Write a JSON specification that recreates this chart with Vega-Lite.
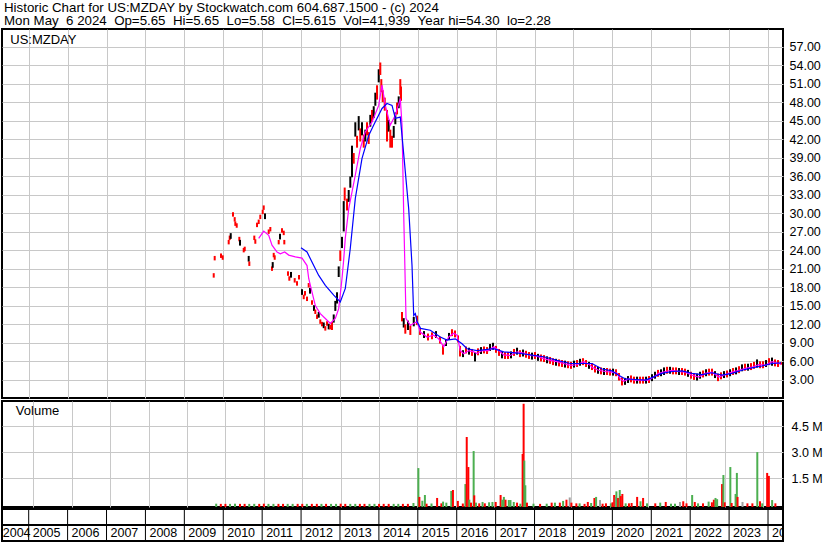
{
"$schema": "https://vega.github.io/schema/vega-lite/v6.json",
"padding": 0,
"background": "#ffffff",
"title": {"text": ["Historic Chart for US:MZDAY by Stockwatch.com 604.687.1500 - (c) 2024", "Mon May\u00a0\u00a06 2024\u00a0\u00a0Op=5.65\u00a0\u00a0Hi=5.65\u00a0\u00a0Lo=5.58\u00a0\u00a0Cl=5.615\u00a0\u00a0Vol=41,939\u00a0\u00a0Year hi=54.30\u00a0\u00a0lo=2.28"], "anchor": "start", "frame": "group", "fontSize": 13.3, "font": "Liberation Sans", "fontWeight": "normal", "color": "#000000", "lineHeight": 13, "offset": 2, "dx": 2, "dy": 1},
"config": {
  "view": {"stroke": "#000000", "strokeWidth": 2},
  "axis": {"gridColor": "#c8c8c8", "gridWidth": 1, "labelFont": "Liberation Sans", "labelFontSize": 12.5, "labelColor": "#000000", "labelOverlap": false},
  "axisY": {"labelOverlap": false, "labelSeparation": 0},
  "text": {"font": "Liberation Sans", "color": "#000000"}
},
"datasets": {
  "prices": [
    {"t":2009.755,"high":20.1,"low":19.7,"dir":"down"},
    {"t":2009.780,"high":22.9,"low":22.5,"dir":"down"},
    {"t":2009.942,"high":23.3,"low":22.9,"dir":"down"},
    {"t":2009.986,"high":23.0,"low":22.6,"dir":"down"},
    {"t":2010.140,"high":25.5,"low":25.1,"dir":"down"},
    {"t":2010.166,"high":26.2,"low":25.8,"dir":"down"},
    {"t":2010.192,"high":26.6,"low":26.0,"dir":"up"},
    {"t":2010.251,"high":30.0,"low":29.6,"dir":"down"},
    {"t":2010.294,"high":29.2,"low":28.8,"dir":"down"},
    {"t":2010.310,"high":28.5,"low":28.1,"dir":"down"},
    {"t":2010.346,"high":28.2,"low":27.8,"dir":"down"},
    {"t":2010.413,"high":26.0,"low":25.6,"dir":"down"},
    {"t":2010.431,"high":25.5,"low":24.9,"dir":"up"},
    {"t":2010.526,"high":24.2,"low":23.8,"dir":"down"},
    {"t":2010.552,"high":24.4,"low":24.0,"dir":"down"},
    {"t":2010.654,"high":22.9,"low":22.3,"dir":"up"},
    {"t":2010.670,"high":22.0,"low":21.6,"dir":"down"},
    {"t":2010.798,"high":26.2,"low":25.8,"dir":"down"},
    {"t":2010.824,"high":25.6,"low":25.2,"dir":"down"},
    {"t":2010.868,"high":28.3,"low":27.9,"dir":"down"},
    {"t":2010.911,"high":28.8,"low":28.4,"dir":"down"},
    {"t":2010.952,"high":29.6,"low":29.2,"dir":"down"},
    {"t":2011.014,"high":30.4,"low":30.0,"dir":"down"},
    {"t":2011.040,"high":31.1,"low":30.7,"dir":"down"},
    {"t":2011.073,"high":29.8,"low":29.2,"dir":"up"},
    {"t":2011.168,"high":27.2,"low":26.8,"dir":"down"},
    {"t":2011.210,"high":27.6,"low":27.2,"dir":"down"},
    {"t":2011.253,"high":21.2,"low":20.8,"dir":"down"},
    {"t":2011.271,"high":21.9,"low":21.3,"dir":"up"},
    {"t":2011.297,"high":23.4,"low":23.0,"dir":"down"},
    {"t":2011.322,"high":23.0,"low":22.6,"dir":"down"},
    {"t":2011.425,"high":25.5,"low":25.1,"dir":"down"},
    {"t":2011.459,"high":26.5,"low":25.9,"dir":"up"},
    {"t":2011.510,"high":27.4,"low":27.0,"dir":"down"},
    {"t":2011.554,"high":27.0,"low":26.6,"dir":"down"},
    {"t":2011.569,"high":25.5,"low":25.1,"dir":"down"},
    {"t":2011.664,"high":20.4,"low":20.0,"dir":"down"},
    {"t":2011.698,"high":19.6,"low":19.2,"dir":"down"},
    {"t":2011.741,"high":20.3,"low":19.7,"dir":"up"},
    {"t":2011.836,"high":19.3,"low":18.9,"dir":"down"},
    {"t":2011.896,"high":18.8,"low":18.4,"dir":"down"},
    {"t":2011.947,"high":19.8,"low":19.4,"dir":"down"},
    {"t":2012.024,"high":17.5,"low":16.9,"dir":"up"},
    {"t":2012.068,"high":16.6,"low":16.2,"dir":"down"},
    {"t":2012.101,"high":17.2,"low":16.8,"dir":"down"},
    {"t":2012.153,"high":16.3,"low":15.9,"dir":"down"},
    {"t":2012.196,"high":18.5,"low":18.1,"dir":"down"},
    {"t":2012.230,"high":17.7,"low":17.1,"dir":"up"},
    {"t":2012.281,"high":15.7,"low":15.3,"dir":"down"},
    {"t":2012.332,"high":14.9,"low":14.3,"dir":"up"},
    {"t":2012.366,"high":14.2,"low":13.8,"dir":"down"},
    {"t":2012.410,"high":13.4,"low":13.0,"dir":"down"},
    {"t":2012.454,"high":13.8,"low":13.2,"dir":"up"},
    {"t":2012.494,"high":12.6,"low":12.2,"dir":"down"},
    {"t":2012.538,"high":12.2,"low":11.8,"dir":"down"},
    {"t":2012.582,"high":12.1,"low":11.5,"dir":"up"},
    {"t":2012.623,"high":11.5,"low":11.1,"dir":"down"},
    {"t":2012.667,"high":12.3,"low":11.9,"dir":"down"},
    {"t":2012.710,"high":11.9,"low":11.3,"dir":"up"},
    {"t":2012.752,"high":11.7,"low":11.3,"dir":"down"},
    {"t":2012.795,"high":12.2,"low":11.2,"dir":"down"},
    {"t":2012.839,"high":13.4,"low":12.4,"dir":"up"},
    {"t":2012.880,"high":15.6,"low":14.3,"dir":"up"},
    {"t":2012.924,"high":17.0,"low":15.5,"dir":"up"},
    {"t":2012.967,"high":21.2,"low":19.8,"dir":"up"},
    {"t":2013.008,"high":23.8,"low":22.4,"dir":"down"},
    {"t":2013.052,"high":26.0,"low":24.5,"dir":"up"},
    {"t":2013.096,"high":31.8,"low":27.2,"dir":"up"},
    {"t":2013.121,"high":34.0,"low":32.2,"dir":"down"},
    {"t":2013.181,"high":32.2,"low":30.6,"dir":"down"},
    {"t":2013.224,"high":33.6,"low":32.0,"dir":"up"},
    {"t":2013.265,"high":35.8,"low":34.3,"dir":"up"},
    {"t":2013.309,"high":40.8,"low":36.0,"dir":"up"},
    {"t":2013.353,"high":39.6,"low":38.2,"dir":"down"},
    {"t":2013.394,"high":44.6,"low":42.6,"dir":"up"},
    {"t":2013.438,"high":42.4,"low":40.8,"dir":"down"},
    {"t":2013.481,"high":45.6,"low":43.6,"dir":"up"},
    {"t":2013.522,"high":43.6,"low":41.8,"dir":"down"},
    {"t":2013.566,"high":44.6,"low":42.8,"dir":"up"},
    {"t":2013.610,"high":42.6,"low":40.8,"dir":"down"},
    {"t":2013.651,"high":43.4,"low":41.8,"dir":"up"},
    {"t":2013.695,"high":44.6,"low":42.8,"dir":"down"},
    {"t":2013.738,"high":43.0,"low":41.4,"dir":"down"},
    {"t":2013.779,"high":45.8,"low":44.2,"dir":"up"},
    {"t":2013.823,"high":46.6,"low":45.0,"dir":"down"},
    {"t":2013.867,"high":47.2,"low":45.6,"dir":"up"},
    {"t":2013.908,"high":49.4,"low":47.6,"dir":"up"},
    {"t":2013.952,"high":50.6,"low":48.6,"dir":"down"},
    {"t":2013.995,"high":53.2,"low":51.4,"dir":"up"},
    {"t":2014.036,"high":54.3,"low":52.6,"dir":"down"},
    {"t":2014.062,"high":51.6,"low":49.8,"dir":"down"},
    {"t":2014.098,"high":49.8,"low":48.2,"dir":"down"},
    {"t":2014.150,"high":48.6,"low":46.8,"dir":"down"},
    {"t":2014.208,"high":46.6,"low":41.8,"dir":"down"},
    {"t":2014.252,"high":45.0,"low":43.4,"dir":"up"},
    {"t":2014.293,"high":43.4,"low":40.8,"dir":"down"},
    {"t":2014.337,"high":42.4,"low":40.8,"dir":"down"},
    {"t":2014.381,"high":44.0,"low":42.4,"dir":"up"},
    {"t":2014.422,"high":46.2,"low":44.6,"dir":"up"},
    {"t":2014.466,"high":47.8,"low":46.2,"dir":"down"},
    {"t":2014.509,"high":48.8,"low":47.2,"dir":"up"},
    {"t":2014.550,"high":51.6,"low":49.4,"dir":"down"},
    {"t":2014.568,"high":50.4,"low":48.4,"dir":"down"},
    {"t":2014.594,"high":13.8,"low":12.6,"dir":"down"},
    {"t":2014.638,"high":12.8,"low":11.6,"dir":"up"},
    {"t":2014.679,"high":11.8,"low":10.6,"dir":"down"},
    {"t":2014.748,"high":12.4,"low":11.2,"dir":"up"},
    {"t":2014.808,"high":11.6,"low":10.4,"dir":"down"},
    {"t":2014.896,"high":13.0,"low":11.8,"dir":"up"},
    {"t":2014.980,"high":13.2,"low":12.0,"dir":"down"},
    {"t":2015.057,"high":11.2,"low":10.4,"dir":"down"},
    {"t":2015.159,"high":10.7,"low":9.9,"dir":"up"},
    {"t":2015.262,"high":10.3,"low":9.5,"dir":"down"},
    {"t":2015.365,"high":10.5,"low":9.7,"dir":"down"},
    {"t":2015.468,"high":10.7,"low":9.9,"dir":"up"},
    {"t":2015.571,"high":9.8,"low":9.0,"dir":"down"},
    {"t":2015.648,"high":8.5,"low":7.2,"dir":"down"},
    {"t":2015.725,"high":9.4,"low":8.6,"dir":"up"},
    {"t":2015.802,"high":10.4,"low":9.6,"dir":"up"},
    {"t":2015.879,"high":11.0,"low":10.2,"dir":"down"},
    {"t":2015.956,"high":10.8,"low":10.0,"dir":"down"},
    {"t":2016.033,"high":10.0,"low":9.2,"dir":"down"},
    {"t":2016.085,"high":8.3,"low":6.9,"dir":"down"},
    {"t":2016.162,"high":7.6,"low":6.8,"dir":"up"},
    {"t":2016.239,"high":8.2,"low":7.4,"dir":"down"},
    {"t":2016.316,"high":8.0,"low":7.2,"dir":"up"},
    {"t":2016.393,"high":7.8,"low":7.0,"dir":"down"},
    {"t":2016.470,"high":7.3,"low":6.1,"dir":"up"},
    {"t":2016.547,"high":7.9,"low":7.1,"dir":"down"},
    {"t":2016.624,"high":8.1,"low":7.3,"dir":"up"},
    {"t":2016.701,"high":8.2,"low":7.4,"dir":"down"},
    {"t":2016.779,"high":8.1,"low":7.3,"dir":"down"},
    {"t":2016.856,"high":8.6,"low":7.8,"dir":"up"},
    {"t":2016.933,"high":8.8,"low":8.0,"dir":"up"},
    {"t":2017.010,"high":8.3,"low":7.5,"dir":"down"},
    {"t":2017.087,"high":7.8,"low":7.0,"dir":"down"},
    {"t":2017.164,"high":7.4,"low":6.6,"dir":"up"},
    {"t":2017.241,"high":7.3,"low":6.5,"dir":"down"},
    {"t":2017.318,"high":7.3,"low":6.5,"dir":"down"},
    {"t":2017.395,"high":7.4,"low":6.6,"dir":"up"},
    {"t":2017.472,"high":7.8,"low":7.0,"dir":"down"},
    {"t":2017.550,"high":8.0,"low":7.2,"dir":"up"},
    {"t":2017.627,"high":7.6,"low":6.8,"dir":"down"},
    {"t":2017.704,"high":7.7,"low":6.9,"dir":"up"},
    {"t":2017.781,"high":7.5,"low":6.7,"dir":"down"},
    {"t":2017.858,"high":7.3,"low":6.5,"dir":"down"},
    {"t":2017.935,"high":7.2,"low":6.4,"dir":"up"},
    {"t":2018.012,"high":7.3,"low":6.5,"dir":"down"},
    {"t":2018.089,"high":7.0,"low":6.2,"dir":"up"},
    {"t":2018.166,"high":6.9,"low":6.1,"dir":"down"},
    {"t":2018.243,"high":6.8,"low":6.0,"dir":"down"},
    {"t":2018.321,"high":6.6,"low":5.8,"dir":"up"},
    {"t":2018.398,"high":6.5,"low":5.7,"dir":"down"},
    {"t":2018.475,"high":6.3,"low":5.5,"dir":"down"},
    {"t":2018.552,"high":6.2,"low":5.4,"dir":"up"},
    {"t":2018.629,"high":6.1,"low":5.3,"dir":"down"},
    {"t":2018.706,"high":6.0,"low":5.2,"dir":"down"},
    {"t":2018.783,"high":5.9,"low":5.1,"dir":"up"},
    {"t":2018.860,"high":5.8,"low":5.0,"dir":"down"},
    {"t":2018.937,"high":5.7,"low":4.9,"dir":"down"},
    {"t":2019.014,"high":5.9,"low":5.1,"dir":"up"},
    {"t":2019.092,"high":6.0,"low":5.2,"dir":"down"},
    {"t":2019.169,"high":6.2,"low":5.4,"dir":"up"},
    {"t":2019.246,"high":6.3,"low":5.5,"dir":"down"},
    {"t":2019.323,"high":6.0,"low":5.2,"dir":"down"},
    {"t":2019.400,"high":5.7,"low":4.9,"dir":"up"},
    {"t":2019.477,"high":5.5,"low":4.7,"dir":"down"},
    {"t":2019.554,"high":5.1,"low":4.3,"dir":"down"},
    {"t":2019.631,"high":4.9,"low":4.1,"dir":"up"},
    {"t":2019.708,"high":4.8,"low":4.0,"dir":"down"},
    {"t":2019.785,"high":4.7,"low":3.9,"dir":"up"},
    {"t":2019.863,"high":4.7,"low":3.9,"dir":"down"},
    {"t":2019.940,"high":4.6,"low":3.8,"dir":"down"},
    {"t":2020.017,"high":4.6,"low":3.8,"dir":"up"},
    {"t":2020.094,"high":4.5,"low":3.7,"dir":"down"},
    {"t":2020.171,"high":3.9,"low":3.0,"dir":"down"},
    {"t":2020.248,"high":3.2,"low":2.2,"dir":"down"},
    {"t":2020.325,"high":3.1,"low":2.3,"dir":"up"},
    {"t":2020.402,"high":3.4,"low":2.6,"dir":"up"},
    {"t":2020.479,"high":3.5,"low":2.7,"dir":"down"},
    {"t":2020.556,"high":3.3,"low":2.5,"dir":"down"},
    {"t":2020.634,"high":3.3,"low":2.5,"dir":"up"},
    {"t":2020.711,"high":3.3,"low":2.5,"dir":"down"},
    {"t":2020.788,"high":3.3,"low":2.5,"dir":"down"},
    {"t":2020.865,"high":3.3,"low":2.5,"dir":"up"},
    {"t":2020.942,"high":3.4,"low":2.6,"dir":"down"},
    {"t":2021.019,"high":3.7,"low":2.9,"dir":"up"},
    {"t":2021.096,"high":4.1,"low":3.3,"dir":"up"},
    {"t":2021.173,"high":4.4,"low":3.6,"dir":"down"},
    {"t":2021.250,"high":4.5,"low":3.7,"dir":"up"},
    {"t":2021.327,"high":4.8,"low":3.9,"dir":"up"},
    {"t":2021.405,"high":4.9,"low":4.1,"dir":"down"},
    {"t":2021.482,"high":4.9,"low":4.1,"dir":"up"},
    {"t":2021.559,"high":4.8,"low":4.0,"dir":"down"},
    {"t":2021.636,"high":4.8,"low":4.0,"dir":"down"},
    {"t":2021.713,"high":4.7,"low":3.9,"dir":"up"},
    {"t":2021.790,"high":4.7,"low":3.9,"dir":"down"},
    {"t":2021.867,"high":4.6,"low":3.8,"dir":"down"},
    {"t":2021.944,"high":4.4,"low":3.6,"dir":"up"},
    {"t":2022.021,"high":4.1,"low":3.3,"dir":"down"},
    {"t":2022.098,"high":3.9,"low":3.1,"dir":"down"},
    {"t":2022.176,"high":3.8,"low":3.0,"dir":"up"},
    {"t":2022.253,"high":4.1,"low":3.3,"dir":"up"},
    {"t":2022.330,"high":4.3,"low":3.5,"dir":"down"},
    {"t":2022.407,"high":4.5,"low":3.7,"dir":"up"},
    {"t":2022.484,"high":4.6,"low":3.8,"dir":"down"},
    {"t":2022.561,"high":4.6,"low":3.8,"dir":"down"},
    {"t":2022.638,"high":4.2,"low":3.4,"dir":"up"},
    {"t":2022.715,"high":3.8,"low":2.9,"dir":"down"},
    {"t":2022.792,"high":4.0,"low":3.2,"dir":"down"},
    {"t":2022.869,"high":4.2,"low":3.4,"dir":"up"},
    {"t":2022.947,"high":4.3,"low":3.5,"dir":"down"},
    {"t":2023.024,"high":4.5,"low":3.7,"dir":"up"},
    {"t":2023.101,"high":4.7,"low":3.9,"dir":"down"},
    {"t":2023.178,"high":4.8,"low":4.0,"dir":"up"},
    {"t":2023.255,"high":5.0,"low":4.2,"dir":"down"},
    {"t":2023.332,"high":5.3,"low":4.5,"dir":"up"},
    {"t":2023.409,"high":5.4,"low":4.6,"dir":"down"},
    {"t":2023.486,"high":5.4,"low":4.6,"dir":"up"},
    {"t":2023.563,"high":5.5,"low":4.7,"dir":"down"},
    {"t":2023.640,"high":5.7,"low":4.9,"dir":"down"},
    {"t":2023.718,"high":6.1,"low":5.1,"dir":"up"},
    {"t":2023.795,"high":5.8,"low":5.0,"dir":"down"},
    {"t":2023.872,"high":5.8,"low":5.0,"dir":"down"},
    {"t":2023.949,"high":6.0,"low":5.2,"dir":"up"},
    {"t":2024.026,"high":6.3,"low":5.5,"dir":"down"},
    {"t":2024.103,"high":6.4,"low":5.4,"dir":"up"},
    {"t":2024.180,"high":6.1,"low":5.3,"dir":"down"},
    {"t":2024.257,"high":6.0,"low":5.2,"dir":"down"},
    {"t":2024.334,"high":5.65,"low":5.58,"dir":"down"}
  ],
  "fastAverage": [
    {"t":2010.911,"value":25.9},{"t":2011.040,"value":27.1},{"t":2011.168,"value":26.4},{"t":2011.253,"value":24.8},
    {"t":2011.382,"value":23.7},{"t":2011.466,"value":23.4},{"t":2011.579,"value":23.7},{"t":2011.682,"value":23.2},
    {"t":2011.852,"value":22.9},{"t":2012.024,"value":22.7},{"t":2012.153,"value":21.5},{"t":2012.196,"value":19.4},
    {"t":2012.281,"value":17.2},{"t":2012.366,"value":15.0},{"t":2012.494,"value":13.7},{"t":2012.623,"value":12.9},
    {"t":2012.752,"value":12.1},{"t":2012.880,"value":12.9},{"t":2012.967,"value":14.5},{"t":2013.052,"value":19.4},
    {"t":2013.096,"value":22.5},{"t":2013.137,"value":26.0},{"t":2013.224,"value":30.7},{"t":2013.394,"value":36.2},
    {"t":2013.522,"value":40.5},{"t":2013.651,"value":43.2},{"t":2013.823,"value":44.8},{"t":2013.995,"value":47.5},
    {"t":2014.080,"value":50.8},{"t":2014.165,"value":47.5},{"t":2014.293,"value":44.3},{"t":2014.422,"value":45.9},
    {"t":2014.550,"value":48.6},{"t":2014.594,"value":44.3},{"t":2014.638,"value":29.7},{"t":2014.697,"value":12.9},
    {"t":2014.808,"value":11.8},{"t":2014.980,"value":12.4},{"t":2015.064,"value":10.7},{"t":2015.237,"value":9.9},
    {"t":2015.409,"value":10.2},{"t":2015.537,"value":9.6},{"t":2015.665,"value":8.3},{"t":2015.794,"value":9.9},
    {"t":2015.923,"value":10.5},{"t":2016.008,"value":10.2},{"t":2016.092,"value":7.7},{"t":2016.180,"value":7.2},
    {"t":2016.308,"value":7.7},{"t":2016.437,"value":7.5},{"t":2016.522,"value":7.2},{"t":2016.650,"value":7.7},
    {"t":2016.822,"value":7.7},{"t":2016.951,"value":8.3},{"t":2017.079,"value":7.7},{"t":2017.208,"value":7.0},
    {"t":2017.377,"value":6.9},{"t":2017.550,"value":7.5},{"t":2017.721,"value":7.3},{"t":2017.891,"value":6.9},
    {"t":2018.064,"value":6.8},{"t":2018.236,"value":6.4},{"t":2018.405,"value":6.1},{"t":2018.578,"value":5.9},
    {"t":2018.750,"value":5.6},{"t":2018.919,"value":5.3},{"t":2019.092,"value":5.4},{"t":2019.264,"value":5.9},
    {"t":2019.434,"value":5.3},{"t":2019.477,"value":5.0},{"t":2019.649,"value":4.5},{"t":2019.819,"value":4.3},
    {"t":2019.991,"value":4.2},{"t":2020.120,"value":4.0},{"t":2020.205,"value":3.1},{"t":2020.292,"value":2.7},
    {"t":2020.421,"value":3.1},{"t":2020.590,"value":2.9},{"t":2020.762,"value":2.9},{"t":2020.934,"value":2.9},
    {"t":2021.063,"value":3.4},{"t":2021.191,"value":4.0},{"t":2021.361,"value":4.3},{"t":2021.533,"value":4.5},
    {"t":2021.705,"value":4.3},{"t":2021.875,"value":4.2},{"t":2022.047,"value":3.7},{"t":2022.219,"value":3.4},
    {"t":2022.389,"value":4.0},{"t":2022.561,"value":4.2},{"t":2022.733,"value":3.4},{"t":2022.903,"value":3.8},
    {"t":2023.075,"value":4.2},{"t":2023.247,"value":4.5},{"t":2023.417,"value":4.8},{"t":2023.589,"value":5.0},
    {"t":2023.761,"value":5.4},{"t":2023.931,"value":5.3},{"t":2024.103,"value":5.9},{"t":2024.275,"value":5.6},
    {"t":2024.334,"value":5.5}
  ],
  "slowAverage": [
    {"t":2011.998,"value":24.4},{"t":2012.153,"value":23.7},{"t":2012.325,"value":21.5},{"t":2012.453,"value":19.9},
    {"t":2012.623,"value":18.3},{"t":2012.839,"value":16.7},{"t":2013.008,"value":15.6},{"t":2013.137,"value":17.8},
    {"t":2013.265,"value":24.3},{"t":2013.394,"value":32.4},{"t":2013.566,"value":38.9},{"t":2013.738,"value":42.6},
    {"t":2013.867,"value":44.3},{"t":2014.080,"value":47.0},{"t":2014.208,"value":47.8},{"t":2014.337,"value":47.5},
    {"t":2014.422,"value":45.4},{"t":2014.550,"value":45.6},{"t":2014.594,"value":42.6},{"t":2014.766,"value":30.7},
    {"t":2014.851,"value":21.5},{"t":2014.895,"value":13.4},{"t":2014.936,"value":13.7},{"t":2014.980,"value":12.4},
    {"t":2015.070,"value":11.3},{"t":2015.321,"value":11.0},{"t":2015.578,"value":9.9},{"t":2015.751,"value":9.4},
    {"t":2015.964,"value":9.6},{"t":2016.136,"value":8.8},{"t":2016.265,"value":8.0},{"t":2016.522,"value":7.7},
    {"t":2016.951,"value":8.0},{"t":2017.208,"value":7.5},{"t":2017.550,"value":7.3},{"t":2017.891,"value":7.0},
    {"t":2018.236,"value":6.7},{"t":2018.578,"value":6.1},{"t":2018.919,"value":5.6},{"t":2019.264,"value":5.6},
    {"t":2019.477,"value":5.6},{"t":2019.734,"value":4.7},{"t":2019.991,"value":4.4},{"t":2020.163,"value":3.7},
    {"t":2020.333,"value":3.1},{"t":2020.590,"value":3.0},{"t":2020.847,"value":2.9},{"t":2021.019,"value":3.3},
    {"t":2021.276,"value":4.0},{"t":2021.533,"value":4.3},{"t":2021.790,"value":4.4},{"t":2022.047,"value":4.0},
    {"t":2022.304,"value":3.8},{"t":2022.561,"value":4.1},{"t":2022.818,"value":3.7},{"t":2023.075,"value":4.0},
    {"t":2023.332,"value":4.5},{"t":2023.589,"value":4.9},{"t":2023.846,"value":5.2},{"t":2024.103,"value":5.6},
    {"t":2024.334,"value":5.7}
  ],
  "volume": [
    {"t":2009.76,"vol":40000,"dir":"up"},{"t":2009.88,"vol":30000,"dir":"down"},{"t":2010.00,"vol":30000,"dir":"down"},{"t":2010.12,"vol":30000,"dir":"up"},{"t":2010.25,"vol":40000,"dir":"up"},
    {"t":2010.38,"vol":30000,"dir":"down"},{"t":2010.50,"vol":30000,"dir":"down"},{"t":2010.62,"vol":30000,"dir":"up"},{"t":2010.75,"vol":30000,"dir":"up"},{"t":2010.88,"vol":30000,"dir":"down"},{"t":2011.00,"vol":40000,"dir":"down"},
    {"t":2011.12,"vol":30000,"dir":"up"},{"t":2011.25,"vol":30000,"dir":"up"},{"t":2011.38,"vol":30000,"dir":"down"},{"t":2011.50,"vol":30000,"dir":"down"},{"t":2011.62,"vol":30000,"dir":"up"},{"t":2011.75,"vol":30000,"dir":"up"},
    {"t":2011.88,"vol":30000,"dir":"down"},{"t":2012.00,"vol":30000,"dir":"down"},{"t":2012.12,"vol":30000,"dir":"up"},{"t":2012.25,"vol":30000,"dir":"down"},{"t":2012.38,"vol":30000,"dir":"down"},{"t":2012.50,"vol":30000,"dir":"up"},
    {"t":2012.62,"vol":30000,"dir":"down"},{"t":2012.75,"vol":30000,"dir":"up"},{"t":2012.88,"vol":30000,"dir":"up"},{"t":2013.00,"vol":40000,"dir":"down"},{"t":2013.12,"vol":30000,"dir":"down"},{"t":2013.25,"vol":30000,"dir":"up"},
    {"t":2013.38,"vol":30000,"dir":"up"},{"t":2013.50,"vol":30000,"dir":"down"},{"t":2013.62,"vol":30000,"dir":"down"},{"t":2013.75,"vol":30000,"dir":"up"},{"t":2013.88,"vol":30000,"dir":"up"},{"t":2014.00,"vol":30000,"dir":"down"},
    {"t":2014.12,"vol":30000,"dir":"down"},{"t":2014.25,"vol":30000,"dir":"down"},{"t":2014.38,"vol":30000,"dir":"up"},{"t":2014.50,"vol":30000,"dir":"up"},{"t":2014.62,"vol":30000,"dir":"down"},{"t":2014.75,"vol":30000,"dir":"down"},
    {"t":2014.895,"vol":80000,"dir":"up"},{"t":2015.023,"vol":2090000,"dir":"up"},{"t":2015.049,"vol":430000,"dir":"down"},
    {"t":2015.126,"vol":210000,"dir":"up"},{"t":2015.193,"vol":540000,"dir":"up"},{"t":2015.237,"vol":40000,"dir":"down"},
    {"t":2015.365,"vol":50000,"dir":"up"},{"t":2015.511,"vol":370000,"dir":"down"},{"t":2015.622,"vol":60000,"dir":"down"},
    {"t":2015.666,"vol":160000,"dir":"up"},{"t":2015.751,"vol":100000,"dir":"up"},{"t":2015.879,"vol":770000,"dir":"up"},
    {"t":2015.923,"vol":830000,"dir":"down"},{"t":2016.051,"vol":200000,"dir":"down"},{"t":2016.180,"vol":50000,"dir":"down"},
    {"t":2016.247,"vol":1170000,"dir":"up"},{"t":2016.282,"vol":3880000,"dir":"down"},{"t":2016.324,"vol":2150000,"dir":"down"},
    {"t":2016.349,"vol":270000,"dir":"up"},{"t":2016.393,"vol":100000,"dir":"down"},{"t":2016.462,"vol":3070000,"dir":"up"},
    {"t":2016.478,"vol":520000,"dir":"down"},{"t":2016.522,"vol":100000,"dir":"up"},{"t":2016.607,"vol":60000,"dir":"down"},
    {"t":2016.694,"vol":140000,"dir":"up"},{"t":2016.753,"vol":60000,"dir":"down"},{"t":2016.864,"vol":120000,"dir":"up"},
    {"t":2016.951,"vol":140000,"dir":"up"},{"t":2017.036,"vol":140000,"dir":"down"},{"t":2017.164,"vol":540000,"dir":"down"},
    {"t":2017.208,"vol":270000,"dir":"up"},{"t":2017.249,"vol":430000,"dir":"up"},{"t":2017.292,"vol":270000,"dir":"down"},
    {"t":2017.377,"vol":250000,"dir":"up"},{"t":2017.421,"vol":250000,"dir":"up"},{"t":2017.506,"vol":140000,"dir":"up"},
    {"t":2017.592,"vol":100000,"dir":"down"},{"t":2017.678,"vol":40000,"dir":"up"},{"t":2017.737,"vol":2900000,"dir":"down"},
    {"t":2017.763,"vol":5790000,"dir":"down"},{"t":2017.781,"vol":2520000,"dir":"up"},{"t":2017.807,"vol":1100000,"dir":"up"},
    {"t":2017.850,"vol":100000,"dir":"down"},{"t":2018.020,"vol":40000,"dir":"up"},{"t":2018.192,"vol":30000,"dir":"down"},
    {"t":2018.364,"vol":40000,"dir":"up"},{"t":2018.493,"vol":100000,"dir":"down"},{"t":2018.578,"vol":100000,"dir":"up"},
    {"t":2018.706,"vol":100000,"dir":"down"},{"t":2018.791,"vol":200000,"dir":"up"},{"t":2018.878,"vol":270000,"dir":"down"},
    {"t":2018.963,"vol":400000,"dir":"flat"},{"t":2019.007,"vol":100000,"dir":"down"},{"t":2019.136,"vol":60000,"dir":"down"},
    {"t":2019.220,"vol":60000,"dir":"up"},{"t":2019.349,"vol":30000,"dir":"down"},{"t":2019.434,"vol":140000,"dir":"down"},
    {"t":2019.521,"vol":80000,"dir":"up"},{"t":2019.606,"vol":370000,"dir":"down"},{"t":2019.650,"vol":430000,"dir":"up"},
    {"t":2019.752,"vol":250000,"dir":"flat"},{"t":2019.819,"vol":40000,"dir":"down"},{"t":2019.906,"vol":60000,"dir":"down"},
    {"t":2020.034,"vol":60000,"dir":"up"},{"t":2020.076,"vol":120000,"dir":"down"},{"t":2020.120,"vol":540000,"dir":"down"},
    {"t":2020.163,"vol":430000,"dir":"flat"},{"t":2020.178,"vol":750000,"dir":"up"},{"t":2020.222,"vol":370000,"dir":"down"},
    {"t":2020.265,"vol":830000,"dir":"up"},{"t":2020.291,"vol":480000,"dir":"down"},{"t":2020.333,"vol":600000,"dir":"down"},
    {"t":2020.419,"vol":60000,"dir":"up"},{"t":2020.505,"vol":60000,"dir":"down"},{"t":2020.574,"vol":80000,"dir":"down"},
    {"t":2020.718,"vol":430000,"dir":"down"},{"t":2020.806,"vol":180000,"dir":"up"},{"t":2020.873,"vol":370000,"dir":"down"},
    {"t":2020.976,"vol":60000,"dir":"up"},{"t":2021.190,"vol":60000,"dir":"down"},{"t":2021.319,"vol":100000,"dir":"up"},
    {"t":2021.463,"vol":140000,"dir":"down"},{"t":2021.600,"vol":40000,"dir":"up"},{"t":2021.703,"vol":40000,"dir":"up"},
    {"t":2021.833,"vol":140000,"dir":"flat"},{"t":2021.918,"vol":180000,"dir":"down"},{"t":2022.003,"vol":60000,"dir":"down"},
    {"t":2022.150,"vol":540000,"dir":"up"},{"t":2022.219,"vol":140000,"dir":"down"},{"t":2022.304,"vol":60000,"dir":"up"},
    {"t":2022.433,"vol":60000,"dir":"down"},{"t":2022.579,"vol":160000,"dir":"up"},{"t":2022.664,"vol":120000,"dir":"down"},
    {"t":2022.715,"vol":270000,"dir":"down"},{"t":2022.758,"vol":370000,"dir":"up"},{"t":2022.800,"vol":300000,"dir":"up"},
    {"t":2022.929,"vol":1170000,"dir":"down"},{"t":2022.964,"vol":1690000,"dir":"up"},{"t":2022.998,"vol":120000,"dir":"down"},
    {"t":2023.144,"vol":2150000,"dir":"up"},{"t":2023.178,"vol":80000,"dir":"down"},{"t":2023.281,"vol":600000,"dir":"up"},
    {"t":2023.314,"vol":1810000,"dir":"up"},{"t":2023.332,"vol":430000,"dir":"down"},{"t":2023.461,"vol":140000,"dir":"flat"},
    {"t":2023.589,"vol":60000,"dir":"down"},{"t":2023.718,"vol":60000,"dir":"down"},{"t":2023.846,"vol":3010000,"dir":"up"},
    {"t":2023.916,"vol":180000,"dir":"down"},{"t":2023.975,"vol":60000,"dir":"up"},{"t":2024.103,"vol":1810000,"dir":"down"},
    {"t":2024.147,"vol":1640000,"dir":"down"},{"t":2024.232,"vol":250000,"dir":"up"},{"t":2024.317,"vol":60000,"dir":"down"}
  ],
  "years": [
    {"year":"2004","start":2004.23},{"year":"2005","start":2005},{"year":"2006","start":2006},{"year":"2007","start":2007},
    {"year":"2008","start":2008},{"year":"2009","start":2009},{"year":"2010","start":2010},{"year":"2011","start":2011},
    {"year":"2012","start":2012},{"year":"2013","start":2013},{"year":"2014","start":2014},{"year":"2015","start":2015},
    {"year":"2016","start":2016},{"year":"2017","start":2017},{"year":"2018","start":2018},{"year":"2019","start":2019},
    {"year":"2020","start":2020},{"year":"2021","start":2021},{"year":"2022","start":2022},{"year":"2023","start":2023},
    {"year":"2024","start":2024}
  ]
},
"resolve": {"scale": {"x": "independent", "y": "independent", "color": "independent"}},
"spacing": 1,
"vconcat": [
  {
    "width": 781, "height": 369,
    "layer": [
      {
        "data": {"name": "prices"},
        "mark": {"type": "rule", "strokeWidth": 2, "strokeCap": "square"},
        "encoding": {
          "x": {"field": "t", "type": "quantitative", "title": null,
                "scale": {"domain": [2004.314, 2024.385], "nice": false, "zero": false},
                "axis": {"values": [2005,2006,2007,2008,2009,2010,2011,2012,2013,2014,2015,2016,2017,2018,2019,2020,2021,2022,2023,2024], "grid": true, "labels": false, "ticks": false, "domain": false, "title": null, "minExtent": 0, "maxExtent": 0}},
          "y": {"field": "low", "type": "quantitative", "title": null,
                "scale": {"domain": [0, 59.9], "nice": false, "zero": false},
                "axis": {"orient": "right", "values": [3,6,9,12,15,18,21,24,27,30,33,36,39,42,45,48,51,54,57], "format": ".2f", "grid": true, "ticks": false, "domain": false, "title": null, "labelPadding": 6, "labelOverlap": false, "labelSeparation": 0, "labelBound": false}},
          "y2": {"field": "high"},
          "color": {"field": "dir", "type": "nominal", "scale": {"domain": ["up", "down"], "range": ["#000000", "#ff0000"]}, "legend": null}
        }
      },
      {
        "data": {"name": "fastAverage"},
        "mark": {"type": "line", "color": "#ff00ff", "strokeWidth": 1.2},
        "encoding": {
          "x": {"field": "t", "type": "quantitative", "title": null,
                "axis": {"values": [2005,2006,2007,2008,2009,2010,2011,2012,2013,2014,2015,2016,2017,2018,2019,2020,2021,2022,2023,2024], "grid": true, "labels": false, "ticks": false, "domain": false, "title": null, "minExtent": 0, "maxExtent": 0}},
          "y": {"field": "value", "type": "quantitative", "title": null,
                "axis": {"orient": "right", "values": [3,6,9,12,15,18,21,24,27,30,33,36,39,42,45,48,51,54,57], "format": ".2f", "grid": true, "ticks": false, "domain": false, "title": null, "labelPadding": 6, "labelOverlap": false, "labelSeparation": 0, "labelBound": false}}
        }
      },
      {
        "data": {"name": "slowAverage"},
        "mark": {"type": "line", "color": "#0000ff", "strokeWidth": 1.2},
        "encoding": {
          "x": {"field": "t", "type": "quantitative", "title": null,
                "axis": {"values": [2005,2006,2007,2008,2009,2010,2011,2012,2013,2014,2015,2016,2017,2018,2019,2020,2021,2022,2023,2024], "grid": true, "labels": false, "ticks": false, "domain": false, "title": null, "minExtent": 0, "maxExtent": 0}},
          "y": {"field": "value", "type": "quantitative", "title": null,
                "axis": {"orient": "right", "values": [3,6,9,12,15,18,21,24,27,30,33,36,39,42,45,48,51,54,57], "format": ".2f", "grid": true, "ticks": false, "domain": false, "title": null, "labelPadding": 6, "labelOverlap": false, "labelSeparation": 0, "labelBound": false}}
        }
      },
      {
        "data": {"values": [{"label": "US:MZDAY", "t": 2004.527, "value": 58.07}]},
        "mark": {"type": "text", "align": "left", "baseline": "middle", "fontSize": 13},
        "encoding": {
          "x": {"field": "t", "type": "quantitative", "title": null,
                "axis": {"values": [2005,2006,2007,2008,2009,2010,2011,2012,2013,2014,2015,2016,2017,2018,2019,2020,2021,2022,2023,2024], "grid": true, "labels": false, "ticks": false, "domain": false, "title": null, "minExtent": 0, "maxExtent": 0}},
          "y": {"field": "value", "type": "quantitative", "title": null,
                "axis": {"orient": "right", "values": [3,6,9,12,15,18,21,24,27,30,33,36,39,42,45,48,51,54,57], "format": ".2f", "grid": true, "ticks": false, "domain": false, "title": null, "labelPadding": 6, "labelOverlap": false, "labelSeparation": 0, "labelBound": false}},
          "text": {"field": "label"}
        }
      }
    ]
  },
  {
    "spacing": -1,
    "resolve": {"scale": {"x": "independent", "y": "independent", "color": "independent"}},
    "vconcat": [
      {
        "width": 781, "height": 106,
        "layer": [
          {
            "data": {"name": "volume"},
            "mark": {"type": "bar", "size": 2},
            "encoding": {
              "x": {"field": "t", "type": "quantitative", "title": null,
                    "scale": {"domain": [2004.314, 2024.385], "nice": false, "zero": false},
                    "axis": {"values": [2005,2006,2007,2008,2009,2010,2011,2012,2013,2014,2015,2016,2017,2018,2019,2020,2021,2022,2023,2024], "grid": true, "labels": false, "ticks": false, "domain": false, "title": null, "minExtent": 0, "maxExtent": 0}},
              "y": {"field": "vol", "type": "quantitative", "title": null,
                    "scale": {"domain": [-150000, 5950000], "nice": false, "zero": false},
                    "axis": {"orient": "right", "values": [1500000, 3000000, 4500000], "labelExpr": "format(datum.value / 1000000, '.1f') + ' M'", "grid": true, "ticks": false, "domain": false, "title": null, "labelPadding": 8, "labelOverlap": false}},
              "y2": {"datum": -150000},
              "color": {"field": "dir", "type": "nominal", "scale": {"domain": ["up", "down", "flat"], "range": ["#4caf50", "#ff0000", "#a0a0a0"]}, "legend": null}
            }
          },
          {
            "data": {"values": [{"label": "Volume", "t": 2004.545, "vol": 5370000}]},
            "mark": {"type": "text", "align": "left", "baseline": "middle", "fontSize": 13},
            "encoding": {
              "x": {"field": "t", "type": "quantitative", "title": null,
                    "axis": {"values": [2005,2006,2007,2008,2009,2010,2011,2012,2013,2014,2015,2016,2017,2018,2019,2020,2021,2022,2023,2024], "grid": true, "labels": false, "ticks": false, "domain": false, "title": null, "minExtent": 0, "maxExtent": 0}},
              "y": {"field": "vol", "type": "quantitative", "title": null,
                    "axis": {"orient": "right", "values": [1500000, 3000000, 4500000], "labelExpr": "format(datum.value / 1000000, '.1f') + ' M'", "grid": true, "ticks": false, "domain": false, "title": null, "labelPadding": 8, "labelOverlap": false}},
              "text": {"field": "label"}
            }
          }
        ]
      },
      {
        "width": 781, "height": 32,
        "data": {"name": "years"},
        "layer": [
          {
            "transform": [{"filter": "datum.start >= 2005"}],
            "mark": {"type": "rule", "color": "#000000", "strokeWidth": 1},
            "encoding": {"x": {"field": "start", "type": "quantitative", "title": null, "scale": {"domain": [2004.314, 2024.385], "nice": false, "zero": false}, "axis": null}}
          },
          {
            "mark": {"type": "rule", "color": "#000000", "strokeWidth": 1.5},
            "encoding": {"y": {"datum": 0.5, "type": "quantitative", "scale": {"domain": [0, 1], "nice": false, "zero": false}, "axis": null}}
          },
          {
            "mark": {"type": "text", "align": "left", "baseline": "middle", "fontSize": 12.5, "dx": 4, "clip": true},
            "encoding": {
              "x": {"field": "start", "type": "quantitative", "axis": null},
              "y": {"datum": 0.25, "type": "quantitative", "axis": null},
              "text": {"field": "year"}
            }
          }
        ]
      }
    ]
  }
]
}
